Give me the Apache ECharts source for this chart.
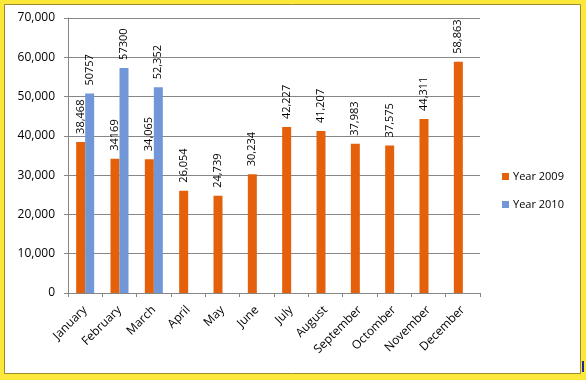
<!DOCTYPE html>
<html>
<head>
<meta charset="utf-8">
<script src="https://cdn.jsdelivr.net/npm/echarts@6/dist/echarts.min.js"></script>
<style>
html,body{margin:0;padding:0;background:#FBE83A;}
#c{width:586px;height:380px;}
</style>
</head>
<body>
<div id="c"></div>
<script>
var categories = ["January","February","March","April","May","June","July","August","September","Octomber","November","December"];
var values2009 = [38468,34169,34065,26054,24739,30234,42227,41207,37983,37575,44311,58863];
var values2010 = [50757,57300,52352,null,null,null,null,null,null,null,null,null];
var labels2009 = ["38,468","34169","34,065","26,054","24,739","30,234","42,227","41,207","37,983","37,575","44,311","58,863"];
var labels2010 = ["50757","57300","52,352","","","","","","","","",""];
var yTicks = ["0","10,000","20,000","30,000","40,000","50,000","60,000","70,000"];

var FONT = "Open Sans";
var chart = echarts.init(document.getElementById('c'), null, {renderer:'canvas'});
chart.setOption({
  backgroundColor: '#FBE83A',
  animation: false,
  textStyle: {fontFamily: FONT},
  graphic: [
    {type:'rect', shape:{x:4.5,y:4.5,width:576,height:369}, style:{fill:'#fff', stroke:'#9C8A2C', lineWidth:1}, z:-10},
    {type:'rect', shape:{x:582,y:361,width:2,height:11}, style:{fill:'#1B2A9A'}, z:-10}
  ],
  grid: {left:68, right:106, top:18, bottom:87, containLabel:false},
  legend: {
    orient:'vertical', left:502, top:171, padding:0, itemWidth:7, itemHeight:7, itemGap:17,
    icon:'rect',
    textStyle:{fontFamily:FONT, fontSize:11, color:'#000', padding:[0,0,0,-1]},
    data:['Year 2009','Year 2010']
  },
  xAxis: {
    type:'category', data:categories,
    axisLine:{lineStyle:{color:'#868686'}},
    axisTick:{show:true, length:4, lineStyle:{color:'#868686'}},
    axisLabel:{rotate:45, interval:0, margin:15, fontFamily:FONT, fontSize:12, color:'#000'},
    splitLine:{show:false}
  },
  yAxis: {
    type:'value', min:0, max:70000, interval:10000,
    axisLine:{show:true, lineStyle:{color:'#868686'}},
    axisTick:{show:true, length:4, lineStyle:{color:'#868686'}},
    axisLabel:{margin:13, fontFamily:FONT, fontSize:12, color:'#000',
      formatter:function(v){ return yTicks[Math.round(v/10000)]; }},
    splitLine:{lineStyle:{color:'#868686'}}
  },
  series: [
    {name:'Year 2009', type:'bar', data:values2009, barWidth:9, barGap:'0%',
      itemStyle:{color:'#E4600A'},
      label:{show:true, position:'top', rotate:90, align:'left', verticalAlign:'middle', distance:8,
        fontFamily:FONT, fontSize:11, color:'#000',
        formatter:function(p){ return labels2009[p.dataIndex]; }}},
    {name:'Year 2010', type:'bar', data:values2010, barWidth:9, barGap:'0%',
      itemStyle:{color:'#7297D8'},
      label:{show:true, position:'top', rotate:90, align:'left', verticalAlign:'middle', distance:8,
        fontFamily:FONT, fontSize:11, color:'#000',
        formatter:function(p){ return labels2010[p.dataIndex]; }}}
  ]
});
</script>
</body>
</html>
